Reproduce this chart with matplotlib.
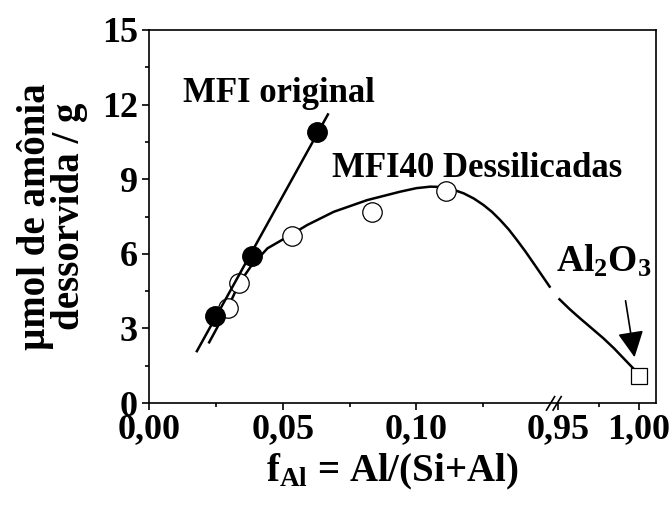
import numpy as np
import matplotlib
matplotlib.use("Agg")
import matplotlib.pyplot as plt
from matplotlib.ticker import FixedLocator, FuncFormatter

plt.rcParams['font.family'] = ['Liberation Serif', 'DejaVu Serif']
plt.rcParams['font.weight'] = 'bold'
plt.rcParams['axes.labelweight'] = 'bold'
plt.rcParams['mathtext.fontset'] = 'custom'
plt.rcParams['mathtext.rm'] = 'Liberation Serif:bold'
plt.rcParams['mathtext.it'] = 'Liberation Serif:bold'
plt.rcParams['mathtext.bf'] = 'Liberation Serif:bold'

# MFI original (filled circles)
x_orig = [0.0247, 0.0384, 0.0629]
y_orig = [3.50, 5.92, 10.88]
orig_line_range = [0.0179, 0.0669]

# MFI40 dessilicadas (open circles)
x_dess = [0.0294, 0.0335, 0.0534, 0.0832, 0.1111]
y_dess = [3.81, 4.81, 6.73, 7.69, 8.52]

# Al2O3 (open square)
x_al = [1.00]
y_al = [1.09]

# guide curve for the dessilicated series
curve_x_left = [0.0225, 0.0294, 0.0337, 0.0380, 0.0443, 0.0530, 0.0592, 0.0691,
                0.0816, 0.0940, 0.1000, 0.1052, 0.1085, 0.1114, 0.1145, 0.1177,
                0.1215, 0.1251, 0.1283, 0.1313, 0.1345, 0.1376, 0.1407, 0.1438,
                0.1468, 0.1498]
curve_y_left = [2.44, 3.81, 4.81, 5.48, 6.22, 6.76, 7.16, 7.69,
                8.16, 8.50, 8.64, 8.70, 8.69, 8.63, 8.55, 8.43,
                8.22, 7.96, 7.68, 7.36, 6.98, 6.55, 6.10, 5.62,
                5.15, 4.68]
curve_x_right = [0.9508, 0.9570, 0.9636, 0.9710, 0.9780, 0.9845, 0.9904, 1.0003]
curve_y_right = [4.17, 3.78, 3.40, 2.99, 2.60, 2.20, 1.80, 1.13]

xticks_major = [0.00, 0.05, 0.10, 0.95, 1.00]
xticks_minor = [0.025, 0.075, 0.125, 0.975]
yticks_major = [0, 3, 6, 9, 12, 15]
yticks_minor = [1.5, 4.5, 7.5, 10.5, 13.5]

# broken x axis: 0..0.15 then 0.95..1.01 squeezed
B1, B2, G, K = 0.15, 0.95, 0.003, 0.6045


def fwd(x):
    x = np.asarray(x, dtype=float)
    return np.where(x <= B1, x,
                    np.where(x >= B2, B1 + G + (x - B2) * K,
                             B1 + (x - B1) * G / (B2 - B1)))


def inv(u):
    u = np.asarray(u, dtype=float)
    return np.where(u <= B1, u,
                    np.where(u >= B1 + G, B2 + (u - B1 - G) / K,
                             B1 + (u - B1) * (B2 - B1) / G))


fig = plt.figure(figsize=(6.7, 5.05), dpi=100)
ax = fig.add_axes([149 / 670, 102 / 505, 507 / 670, 373 / 505])
ax.set_xscale('function', functions=(fwd, inv))

ax.plot(curve_x_left, curve_y_left, color='k', lw=1.8, zorder=2)
ax.plot(curve_x_right, curve_y_right, color='k', lw=1.8, zorder=2)
ax.plot(x_dess, y_dess, 'o', ms=14, mfc='white', mec='k', mew=0.9, zorder=3)

p = np.polyfit(x_orig, y_orig, 1)
xl = np.array(orig_line_range)
ax.plot(xl, np.polyval(p, xl), color='k', lw=1.8, zorder=4)
ax.plot(x_orig, y_orig, 'o', ms=14, mfc='k', mec='k', zorder=5)

ax.plot(x_al, y_al, 's', ms=12, mfc='white', mec='k', mew=0.9, zorder=3)

ax.set_xlim(0, 1.0105)
ax.set_ylim(0, 15)
ax.xaxis.set_major_locator(FixedLocator(xticks_major))
ax.xaxis.set_minor_locator(FixedLocator(xticks_minor))
ax.xaxis.set_major_formatter(FuncFormatter(lambda v, pos: f"{v:.2f}".replace('.', ',')))
ax.yaxis.set_major_locator(FixedLocator(yticks_major))
ax.yaxis.set_minor_locator(FixedLocator(yticks_minor))

ax.tick_params(which='both', direction='out', width=1.2, labelsize=26)
ax.tick_params(which='major', length=5)
ax.tick_params(which='minor', length=3)
ax.tick_params(axis='x', pad=2)
ax.tick_params(axis='y', pad=3)
for s in ax.spines.values():
    s.set_linewidth(1.2)

ax.set_ylabel('µmol de amônia\ndessorvida / g', fontsize=28, linespacing=0.9, va='center')
ax.yaxis.set_label_coords(-0.191, 0.5)
ax.set_xlabel(r'f$_{\mathrm{Al}}$ = Al/(Si+Al)', fontsize=28, va='top')
ax.xaxis.set_label_coords(0.48, -0.132)

ax.text(0.067, 0.807, 'MFI original', transform=ax.transAxes, fontsize=25,
        ha='left', va='baseline')
ax.text(0.361, 0.606, 'MFI40 Dessilicadas', transform=ax.transAxes, fontsize=25,
        ha='left', va='baseline')
ax.text(0.803, 0.351, r'Al$_2$O$_3$', transform=ax.transAxes, fontsize=27,
        ha='left', va='baseline')

ax.annotate('', xy=(0.9975, 1.73), xytext=(0.9914, 4.22),
            arrowprops=dict(arrowstyle='-|>,head_length=0.4,head_width=0.2',
                            color='k', lw=1.2, mutation_scale=40))

# axis break marks
for x0 in (0.784, 0.797):
    ax.plot([x0, x0 + 0.016], [-0.019, 0.017], color='k', lw=1.2,
            transform=ax.transAxes, clip_on=False, zorder=6)

fig.savefig('out.png', dpi=100)
